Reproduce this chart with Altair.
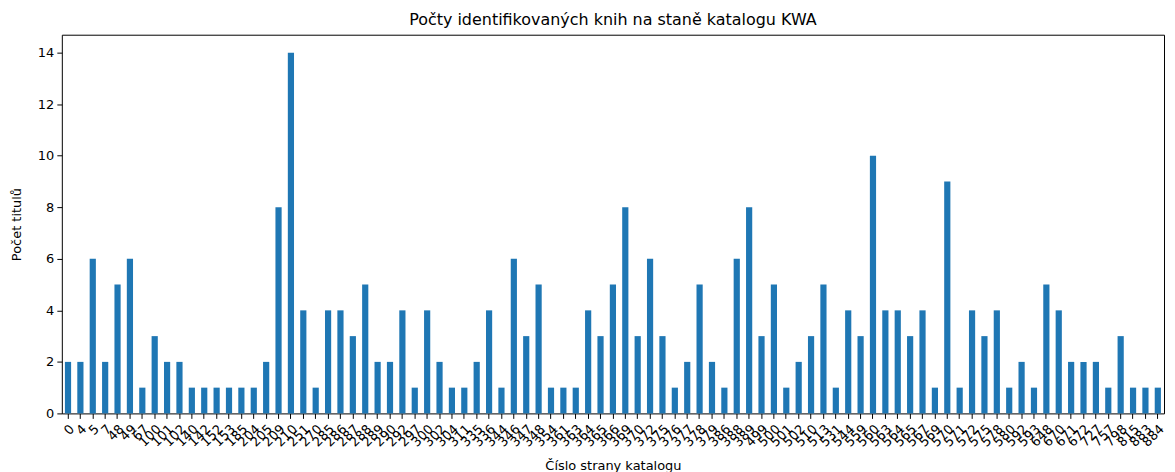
import altair as alt
import pandas as pd

pages = ["0", "4", "5", "7", "48", "49", "67", "100", "101", "102",
         "140", "142", "152", "153", "185", "204", "205", "209", "210", "251",
         "270", "285", "286", "287", "288", "289", "290", "292", "297", "300",
         "302", "304", "311", "335", "336", "344", "346", "347", "348", "354",
         "361", "363", "364", "365", "366", "369", "370", "372", "375", "376",
         "377", "378", "379", "386", "388", "389", "499", "500", "501", "502",
         "510", "513", "531", "544", "559", "560", "563", "564", "565", "567",
         "569", "570", "571", "572", "575", "578", "580", "592", "593", "648",
         "670", "671", "672", "727", "757", "798", "815", "883", "884"]
counts = [2, 2, 6, 2, 5, 6, 1, 3, 2, 2,
          1, 1, 1, 1, 1, 1, 2, 8, 14, 4,
          1, 4, 4, 3, 5, 2, 2, 4, 1, 4,
          2, 1, 1, 2, 4, 1, 6, 3, 5, 1,
          1, 1, 4, 3, 5, 8, 3, 6, 3, 1,
          2, 5, 2, 1, 6, 8, 3, 5, 1, 2,
          3, 5, 1, 4, 3, 10, 4, 4, 3, 4,
          1, 9, 1, 4, 3, 4, 1, 2, 1, 5,
          4, 2, 2, 2, 1, 3, 1, 1, 1]

df = pd.DataFrame({"strana": pages, "pocet": counts})
FONT = "DejaVu Sans"

chart = alt.Chart(df).mark_bar(color="#1f77b4").encode(
    x=alt.X("strana:N", sort=None,
            scale=alt.Scale(paddingInner=0.5, paddingOuter=0.25),
            axis=alt.Axis(title="Číslo strany katalogu", labelAngle=-45,
                          labelAlign="right", labelBaseline="top",
                          labelFontSize=13, labelColor="black",
                          labelPadding=4, tickSize=5, tickColor="black",
                          domain=False, titleFontSize=13, titleColor="black",
                          titleFontWeight="normal", titlePadding=11,
                          labelOverlap=False)),
    y=alt.Y("pocet:Q", scale=alt.Scale(domain=[0, 14.7], nice=False),
            axis=alt.Axis(title="Počet titulů", values=[0, 2, 4, 6, 8, 10, 12, 14],
                          grid=False, labelFontSize=13, labelColor="black",
                          tickSize=5, tickColor="black", domain=False,
                          titleFontSize=13, titleColor="black",
                          titleFontWeight="normal", titlePadding=14,
                          labelPadding=3)),
).properties(
    width=1106, height=380,
    title=alt.Title("Počty identifikovaných knih na staně katalogu KWA",
                    fontSize=16, fontWeight="normal", color="black",
                    font=FONT, offset=7),
    padding={"left": 2, "right": 0, "top": 3, "bottom": 0},
).configure(font=FONT).configure_view(stroke="black", strokeWidth=1)

chart.save("out.html", embed_options={"renderer": "svg", "actions": False})
